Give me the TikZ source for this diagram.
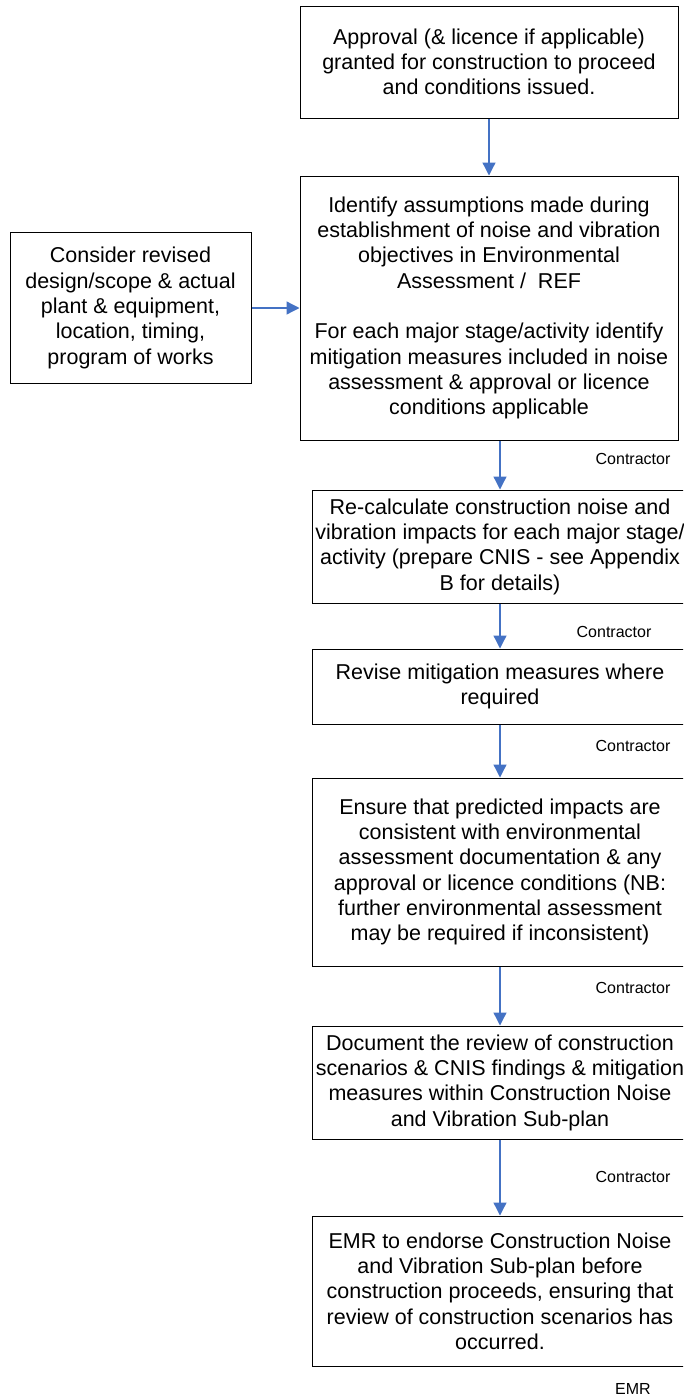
\documentclass[tikz,border=0pt]{standalone}
\usepackage{fontspec}
\setmainfont{Liberation Sans}
\usetikzlibrary{positioning,arrows.meta}
\definecolor{flowblue}{RGB}{68,114,196}

\tikzset{
  stepbox/.style={draw, line width=1pt, align=center, inner sep=0,
    font=\fontsize{21.5}{25.3}\selectfont},
  role/.style={inner sep=0, font=\fontsize{16}{19}\selectfont},
  flow/.style={draw=flowblue, line width=1.3pt,
    -{Triangle[width=13pt,length=13pt]}}
}

\begin{document}
\begin{tikzpicture}[x=1pt,y=-1pt]
  \useasboundingbox (0,0) rectangle (683,1398);
  \clip (0,0) rectangle (683,1398);

  % main column of steps
  \node[stepbox, minimum width=378pt, minimum height=112pt] (approval) at (489,62)
    {Approval (\& licence if applicable)\\granted for construction to proceed\\and conditions issued.};
  \node[stepbox, minimum width=378pt, minimum height=264pt] (identify) at (489,308)
    {Identify assumptions made during\\establishment of noise and vibration\\objectives in Environmental\\Assessment /\ \ REF\\[25.3pt]
     For each major stage/activity identify\\mitigation measures included in noise\\assessment \& approval or licence\\conditions applicable};
  \node[stepbox, minimum width=241pt, minimum height=151pt] (consider) at (130.5,308)
    {Consider revised\\design/scope \& actual\\plant \& equipment,\\location, timing,\\program of works};
  \node[stepbox, minimum width=376pt, minimum height=113pt] (recalc) at (500,546.5)
    {Re-calculate construction noise and\\vibration impacts for each major stage/\\activity (prepare CNIS - see Appendix\\B for details)};
  \node[stepbox, minimum width=376pt, minimum height=75pt] (revise) at (500,686.5)
    {Revise mitigation measures where\\required};
  \node[stepbox, minimum width=376pt, minimum height=188pt] (ensure) at (500,872)
    {Ensure that predicted impacts are\\consistent with environmental\\assessment documentation \& any\\approval or licence conditions (NB:\\further environmental assessment\\may be required if inconsistent)};
  \node[stepbox, minimum width=376pt, minimum height=113pt] (document) at (500,1082.5)
    {Document the review of construction\\scenarios \& CNIS findings \& mitigation\\measures within Construction Noise\\and Vibration Sub-plan};
  \node[stepbox, minimum width=376pt, minimum height=150pt] (endorse) at (500,1291)
    {EMR to endorse Construction Noise\\and Vibration Sub-plan before\\construction proceeds, ensuring that\\review of construction scenarios has\\occurred.};

  % who is responsible
  \node[role] (roleA) at (633,459) {Contractor};
  \node[role] (roleB) at (614,632) {Contractor};
  \node[role] (roleC) at (633,746) {Contractor};
  \node[role] (roleD) at (633,988) {Contractor};
  \node[role] (roleE) at (633,1177) {Contractor};
  \node[role] (roleF) at (633,1389) {EMR};

  % connectors
  \draw[flow] (approval) -- (identify);
  \draw[flow] (consider) -- (identify);
  \draw[flow] (identify.south -| recalc.north) -- (recalc);
  \draw[flow] (recalc) -- (revise);
  \draw[flow] (revise) -- (ensure);
  \draw[flow] (ensure) -- (document);
  \draw[flow] (document) -- (endorse);
\end{tikzpicture}
\end{document}
